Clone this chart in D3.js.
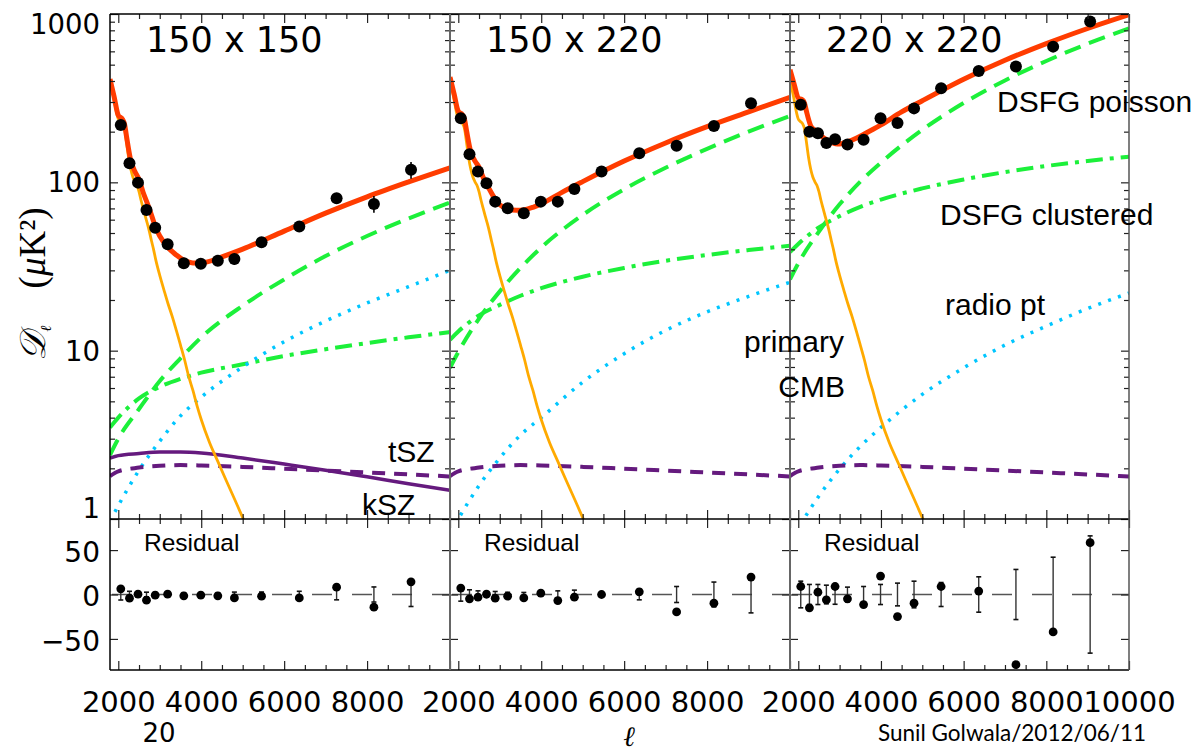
<!DOCTYPE html>
<html><head><meta charset="utf-8">
<script src="https://cdn.jsdelivr.net/npm/d3@7"></script>
<style>
html,body{margin:0;padding:0;background:#fff;}
svg{display:block;}
</style></head>
<body><svg id="chart" width="1196" height="753"></svg>
<script>
// ---- multipole grids ----
const ellFine = [1800,1850,1900,1950,2000,2050,2100,2150,2200,2250,2300,2350,2400,2450,2500,2550,2600,2650,2700,2750,2800,2850,2900,3000,3100,3200,3300,3400,3500,3600,3700,3800,3900,4000,4200,4400,4600,4800,5000,5200];
const ellModel = [1800,2000,2500,3000,3500,4000,5000,6000,7000,8000,9000,10000];
const ellTotal = [1800,1900,2000,2100,2150,2200,2300,2400,2500,2600,2700,2800,2900,3000,3200,3400,3600,3800,4000,4500,5000,6000,7000,8000,9000,10000];
const ellBins = [2060,2270,2475,2680,2890,3190,3580,3990,4400,4800,5455,6365,7265,8165,9060];

// ---- model components (uK^2) ----
const cmbPrimary = [400,355,310,265,238,230,224,208,172,140,120,108,101,96,88,78,70,63,57,51,45,40,35,28,23,19,16,13.2,10.8,8.8,7.0,5.8,4.7,3.9,2.85,2.2,1.7,1.32,1.02,0.8];
const kszModel = [1.8,1.92,2.02,2.07,2.09,2.08,2.04,1.99,1.94,1.89,1.84,1.79];

const poisson150 = [2.4,3.0,4.5,6.6,9.0,12,18.5,26.5,36.5,48,61,76];
const clustered150 = [3.5,4.0,5.2,6.1,6.8,7.4,8.3,9.3,10.2,11.1,12.0,12.9];
const radio150 = [0.97,1.2,1.95,2.9,4.1,5.3,8.0,11.3,15.0,19.2,24,30];
const tsz150 = [2.3,2.38,2.45,2.5,2.5,2.47,2.3,2.12,1.95,1.78,1.62,1.48];
const total150 = [411,322,250,237,222,186,135,116,104,87,75,64,54,48,41,37,34.3,33.2,33.2,36.1,40.1,51.3,65.6,82,100.5,122];

const poisson150x220 = [7.9,9.8,15.5,22.5,31,41,64,91,122,158,200,248];
const clustered150x220 = [11.6,13,16.2,18.7,21.2,23.5,27.5,31,34.2,37,39.6,42];
const radio150x220 = [0.82,1.0,1.58,2.3,3.15,4.0,6.5,9.6,13.2,17,21,25.5];
const total150x220 = [422,334,264,252,237,202,152,134,123,107,96,86.5,78.5,73.6,69.3,68.2,68.8,71.1,74.5,87.2,101,133.7,171.3,214,262,320];

const poisson220 = [26.5,33,51,74,101,131,205,296,403,526,666,822];
const clustered220 = [38.5,43,54,63,71.5,79,92,104,115,125,134,142];
const radio220 = [0.72,0.88,1.37,1.98,2.7,3.5,5.5,7.9,10.8,14,17.8,22];
const total220 = [467,383,317,309,296,263,217,204,196,185,178.5,173,169.6,169,174.5,183,194,206,219.5,262,305.5,410,531,667,820,990];

// ---- bandpowers and residuals ----
const dl150 = [219,130,99.6,68.6,53.8,42.9,33.1,32.8,34.2,35.0,44.1,54.6,80.4,74.4,118.6];
const res150 = [6.4,-4.1,0.4,-6.4,-0.8,0.4,-1.5,-0.8,-1.5,-3.8,-1.9,-3.8,8.3,-14.3,14.3];
const err150 = [6.2,3.6,2.5,2.6,2.2,2.0,2.0,2.0,2.0,2.7,2.8,3.6,6.0,8.5,13.5];

const dl150x220 = [240,147,116,98.8,76.8,70.2,65.5,76.8,76.8,91.4,116,149,165,216,295];
const res150x220 = [7.2,-4.9,-3.0,0.3,-4.1,-1.9,-3.8,1.5,-6.8,-3.0,0,3.0,-19.6,-9.8,19.6];
const err150x220 = [7.5,5.3,4.1,2.5,3.4,2.5,2.3,2.0,4.1,4.9,2.5,6.0,9.0,14,20.7];

const dl220 = [289,200,196,171,180,168,179,240,225,275,362,459,487,640,902];
const res220 = [9.0,-15.0,2.6,-6.0,9.0,-4.9,-11.3,20.7,-24.8,-9.8,9.0,3.8,-79,-42.1,58.3];
const err220 = [15,11.3,11.3,10.5,11,8.3,9.0,11.3,12.8,15,13.5,19.9,28.2,42,66];

// ---- labels and ticks ----
const panelTitles = ["150 x 150","150 x 220","220 x 220"];
const logTickValues = [1,10,100,1000];
const resTickValues = [-50,0,50];
const ellMajor = [2000,4000,6000,8000,10000];
const ellMinor = [2500,3000,3500,4500,5000,5500,6500,7000,7500,8500,9000,9500];
const ellLabelsInner = [2000,4000,6000,8000];

// ---- layout ----
const W = 1196, H = 753;
const yT0 = 14, yT1 = 519, yR1 = 670;
const edges = [110, 450, 790, 1129];
const svg = d3.select("#chart");
svg.append("rect").attr("width", W).attr("height", H).attr("fill", "#fff");

const yTop = d3.scaleLog().domain([1, 1000]).range([yT1, yT0]);
const yRes = d3.scaleLinear().domain([-85, 85]).range([yR1, yT1]);

const GREEN = "#1cf03a", CYAN = "#00c6ff", PURPLE = "#651a7e", RED = "#ff3c00", ORANGE = "#ffaa00";

const panels = [
  {title: panelTitles[0], poisson: poisson150, clustered: clustered150, radio: radio150, tsz: tsz150, total: total150, dl: dl150, res: res150, err: err150, xLabels: ellLabelsInner},
  {title: panelTitles[1], poisson: poisson150x220, clustered: clustered150x220, radio: radio150x220, tsz: null, total: total150x220, dl: dl150x220, res: res150x220, err: err150x220, xLabels: ellLabelsInner},
  {title: panelTitles[2], poisson: poisson220, clustered: clustered220, radio: radio220, tsz: null, total: total220, dl: dl220, res: res220, err: err220, xLabels: ellMajor}
];

const logMinor = [];
[1, 10, 100].forEach(d => { for (let k = 2; k <= 9; k++) logMinor.push(d * k); });

function tickAxis(g, axis, vals, size) {
  g.call(axis.tickValues(vals).tickSize(-size).tickFormat(""));
  g.select(".domain").remove();
  g.selectAll(".tick line").attr("stroke", "#222").attr("stroke-width", 1.2);
}

const defs = svg.append("defs");

panels.forEach((p, i) => {
  const x0 = edges[i], x1 = edges[i + 1];
  const x = d3.scaleLinear().domain([1800, 10000]).range([x0, x1]);

  defs.append("clipPath").attr("id", "clipTop" + i)
    .append("rect").attr("x", x0).attr("y", yT0).attr("width", x1 - x0).attr("height", yT1 - yT0);
  defs.append("clipPath").attr("id", "clipRes" + i)
    .append("rect").attr("x", x0).attr("y", yT1).attr("width", x1 - x0).attr("height", yR1 - yT1);

  const line = d3.line().x(d => x(d[0])).y(d => yTop(d[1])).curve(d3.curveMonotoneX);
  const pair = (xs, ys) => xs.map((e, k) => [e, ys[k]]);

  const gTop = svg.append("g").attr("clip-path", `url(#clipTop${i})`);

  // foreground components
  gTop.append("path").attr("d", line(pair(ellModel, p.clustered)))
    .attr("fill", "none").attr("stroke", GREEN).attr("stroke-width", 4).attr("stroke-dasharray", "17 7 4 7");
  gTop.append("path").attr("d", line(pair(ellModel, p.poisson)))
    .attr("fill", "none").attr("stroke", GREEN).attr("stroke-width", 4).attr("stroke-dasharray", "17 9");
  gTop.append("path").attr("d", line(pair(ellModel, p.radio)))
    .attr("fill", "none").attr("stroke", CYAN).attr("stroke-width", 3.5).attr("stroke-dasharray", "3 7.5");
  if (p.tsz) {
    gTop.append("path").attr("d", line(pair(ellModel, p.tsz)))
      .attr("fill", "none").attr("stroke", PURPLE).attr("stroke-width", 3.5);
  }
  gTop.append("path").attr("d", line(pair(ellModel, kszModel)))
    .attr("fill", "none").attr("stroke", PURPLE).attr("stroke-width", 4).attr("stroke-dasharray", "13 9");

  // primary CMB and total model
  gTop.append("path").attr("d", line(pair(ellFine, cmbPrimary)))
    .attr("fill", "none").attr("stroke", ORANGE).attr("stroke-width", 2.8);
  gTop.append("path").attr("d", line(pair(ellTotal, p.total)))
    .attr("fill", "none").attr("stroke", RED).attr("stroke-width", 5).attr("stroke-linejoin", "round");

  // bandpowers with error bars
  const pts = ellBins.map((e, k) => ({ell: e, d: p.dl[k], r: p.res[k], s: p.err[k]}));
  gTop.selectAll(".eb").data(pts).join("line")
    .attr("x1", d => x(d.ell)).attr("x2", d => x(d.ell))
    .attr("y1", d => yTop(d.d + d.s)).attr("y2", d => yTop(Math.max(d.d - d.s, 0.5)))
    .attr("stroke", "#000").attr("stroke-width", 1.6);
  gTop.selectAll(".pt").data(pts).join("circle")
    .attr("cx", d => x(d.ell)).attr("cy", d => yTop(d.d)).attr("r", 6).attr("fill", "#000");

  // residual panel
  const gRes = svg.append("g").attr("clip-path", `url(#clipRes${i})`);
  gRes.append("line").attr("x1", x0).attr("x2", x1).attr("y1", yRes(0)).attr("y2", yRes(0))
    .attr("stroke", "#555").attr("stroke-width", 1.5).attr("stroke-dasharray", "20 20").attr("stroke-dashoffset", -2);
  const bars = gRes.selectAll(".rb").data(pts).join("g");
  bars.append("line").attr("x1", d => x(d.ell)).attr("x2", d => x(d.ell))
    .attr("y1", d => yRes(d.s)).attr("y2", d => yRes(-d.s)).attr("stroke", "#333").attr("stroke-width", 1.4);
  [1, -1].forEach(sg => {
    bars.append("line").attr("x1", d => x(d.ell) - 2.5).attr("x2", d => x(d.ell) + 2.5)
      .attr("y1", d => yRes(sg * d.s)).attr("y2", d => yRes(sg * d.s)).attr("stroke", "#111").attr("stroke-width", 1.6);
  });
  gRes.selectAll(".rp").data(pts).join("circle")
    .attr("cx", d => x(d.ell)).attr("cy", d => yRes(d.r)).attr("r", 4.4).attr("fill", "#000");

  // inward ticks on all sides
  const gAx = svg.append("g");
  [[d3.axisTop, yT0], [d3.axisBottom, yT1], [d3.axisTop, yT1], [d3.axisBottom, yR1]].forEach(([ax, yy]) => {
    tickAxis(gAx.append("g").attr("transform", `translate(0,${yy})`), ax(x), ellMajor, 9);
    tickAxis(gAx.append("g").attr("transform", `translate(0,${yy})`), ax(x), ellMinor, 5);
  });
  [[d3.axisLeft, x0], [d3.axisRight, x1]].forEach(([ax, xx]) => {
    tickAxis(gAx.append("g").attr("transform", `translate(${xx},0)`), ax(yTop), logTickValues, 8);
    tickAxis(gAx.append("g").attr("transform", `translate(${xx},0)`), ax(yTop), logMinor, 5);
    tickAxis(gAx.append("g").attr("transform", `translate(${xx},0)`), ax(yRes), resTickValues, 8);
  });

  // x tick labels
  const gxl = svg.append("g").attr("transform", `translate(0,${yR1})`)
    .call(d3.axisBottom(x).tickValues(p.xLabels).tickSize(0).tickPadding(21).tickFormat(d3.format("d")));
  gxl.select(".domain").remove();
  gxl.selectAll("text").attr("font-family", "DejaVu Sans").attr("font-size", 29).attr("fill", "#000");

  // panel title and residual label
  svg.append("text").attr("x", x0 + 36).attr("y", 52).attr("font-family", "DejaVu Sans")
    .attr("font-size", 35).attr("fill", "#000").text(p.title);
  svg.append("text").attr("x", x0 + 34).attr("y", 551).attr("font-family", "Liberation Sans")
    .attr("font-size", 24.5).attr("fill", "#000").text("Residual");
});

// y tick labels
const gyl = svg.append("g").attr("transform", `translate(${edges[0]},0)`)
  .call(d3.axisLeft(yTop).tickValues(logTickValues).tickSize(0).tickPadding(10).tickFormat(d3.format("d")));
gyl.select(".domain").remove();
gyl.selectAll("text").attr("font-family", "DejaVu Sans").attr("font-size", 27.5).attr("fill", "#000")
  .attr("dy", d => d === 1000 ? "0.70em" : (d === 1 ? "-0.07em" : "0.35em"));

const gyr = svg.append("g").attr("transform", `translate(${edges[0]},0)`)
  .call(d3.axisLeft(yRes).tickValues(resTickValues).tickSize(0).tickPadding(10).tickFormat(d3.format("d")));
gyr.select(".domain").remove();
gyr.selectAll("text").attr("font-family", "DejaVu Sans").attr("font-size", 28).attr("fill", "#000").attr("dy", "0.4em");

// frame
const frame = svg.append("g").attr("fill", "none");
[yT0, yT1, yR1].forEach(yy => frame.append("line").attr("x1", edges[0]).attr("x2", edges[3]).attr("y1", yy).attr("y2", yy)
  .attr("stroke", "#000").attr("stroke-width", 1.5));
frame.append("line").attr("x1", edges[0]).attr("x2", edges[0]).attr("y1", yT0).attr("y2", yR1).attr("stroke", "#000").attr("stroke-width", 1.5);
[edges[1], edges[2]].forEach(xx => frame.append("line").attr("x1", xx).attr("x2", xx).attr("y1", yT0).attr("y2", yR1)
  .attr("stroke", "#666").attr("stroke-width", 2));
frame.append("line").attr("x1", edges[3]).attr("x2", edges[3]).attr("y1", yT0).attr("y2", yR1).attr("stroke", "#555").attr("stroke-width", 1.5);

// component annotations
const ann = svg.append("g").attr("font-family", "Liberation Sans").attr("font-size", 30).attr("fill", "#000");
ann.append("text").attr("x", 997).attr("y", 112).text("DSFG poisson");
ann.append("text").attr("x", 940).attr("y", 225).text("DSFG clustered");
ann.append("text").attr("x", 945).attr("y", 315).text("radio pt");
ann.append("text").attr("x", 844).attr("y", 352).attr("text-anchor", "end").text("primary");
ann.append("text").attr("x", 845).attr("y", 397).attr("text-anchor", "end").text("CMB");
ann.append("text").attr("x", 388).attr("y", 462).text("tSZ");
ann.append("text").attr("x", 362).attr("y", 515).text("kSZ");

// axis titles
const yt = svg.append("text").attr("transform", "translate(45,284) rotate(-90)").attr("text-anchor", "middle")
  .attr("font-family", "DejaVu Serif").attr("fill", "#000");
yt.append("tspan").attr("font-size", 36).attr("font-style", "italic").text("𝒟");
yt.append("tspan").attr("font-size", 15).attr("dy", 6).attr("font-style", "italic").text("ℓ");
yt.append("tspan").attr("font-size", 37).attr("dy", -6).attr("font-family", "Liberation Serif").text("\u2003(");
yt.append("tspan").attr("font-size", 37).attr("font-family", "Liberation Serif").attr("font-style", "italic").text("μ");
yt.append("tspan").attr("font-size", 37).attr("font-family", "Liberation Serif").text("K²)");

svg.append("text").attr("x", 629).attr("y", 746).attr("text-anchor", "middle").attr("font-family", "DejaVu Serif")
  .attr("font-style", "italic").attr("font-size", 28).attr("fill", "#000").text("ℓ");
svg.append("text").attr("x", 159).attr("y", 742).attr("text-anchor", "middle").attr("font-family", "DejaVu Sans")
  .attr("font-size", 26).attr("fill", "#000").text("20");
svg.append("text").attr("x", 878).attr("y", 741).attr("font-family", "Lato")
  .attr("font-size", 22.5).attr("fill", "#000").text("Sunil Golwala/2012/06/11");
</script>
</body></html>
